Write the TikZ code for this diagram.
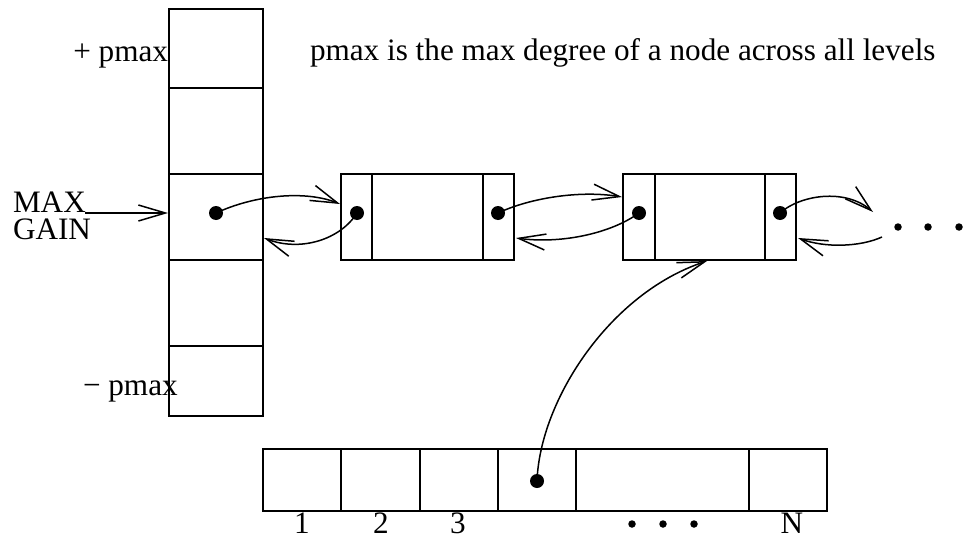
\documentclass[tikz,border=0pt]{standalone}
\usepackage{fontspec}
\setmainfont{Liberation Serif}
\usetikzlibrary{arrows.meta}
\begin{document}
\begin{tikzpicture}[x=1pt,y=-1pt,
  every node/.style={inner sep=0pt,outer sep=0pt},
  lbl/.style={font=\fontsize{31.2}{27.5}\selectfont},
  bigdot/.style={fill=black,circle,minimum size=14pt},
  smalldot/.style={fill=black,circle,minimum size=7.5pt},
  link/.style={line width=1.5pt,-{Straight Barb[length=27pt,width=16pt,line width=1.5pt]}},
  line width=1.5pt]
\useasboundingbox (0,0) rectangle (964,538);
% gain column
\draw (169,9) rectangle (263,416);
\foreach \yy in {88,174,260,346} \draw (169,\yy) -- (263,\yy);
% list node 1
\draw (341,174) rectangle (514,260);
\draw (372,174) -- (372,260) (483,174) -- (483,260);
% list node 2
\draw (623,174) rectangle (796,260);
\draw (655,174) -- (655,260) (765,174) -- (765,260);
% bottom array
\draw (263,449) rectangle (827,511);
\foreach \xx in {341,420,498,576,749} \draw (\xx,449) -- (\xx,511);
% dots
\node[bigdot] (d0) at (216,213) {};
\node[bigdot] (d1l) at (357,213) {};
\node[bigdot] (d1r) at (498,213) {};
\node[bigdot] (d2l) at (639,213) {};
\node[bigdot] (d2r) at (780,213) {};
\node[bigdot] (db) at (537,481) {};
\node[smalldot] (e1) at (898,227) {};
\node[smalldot] (e2) at (928,227) {};
\node[smalldot] (e3) at (959,227) {};
\node[smalldot] (f1) at (632,524) {};
\node[smalldot] (f2) at (663,524) {};
\node[smalldot] (f3) at (694,524) {};
% connector end points
\coordinate (mgs) at (85,213);
\coordinate (mge) at (168,213);
\coordinate (n1in) at (340,204);
\coordinate (colback) at (264,238);
\coordinate (n2in) at (622,197);
\coordinate (n1back) at (516,238);
\coordinate (nxt) at (873,212);
\coordinate (nxtback) at (882,237);
\coordinate (n2back) at (798,238);
\coordinate (n2bot) at (707,261);
% connectors
\draw[link] (mgs) -- (mge);
\draw[link] (d0.center) .. controls (255,195) and (305,190) .. (n1in);
\draw[link] (d1l.center) .. controls (340,240) and (300,252) .. (colback);
\draw[link] (d1r.center) .. controls (530,198) and (580,190) .. (n2in);
\draw[link] (d2l.center) .. controls (610,234) and (560,244) .. (n1back);
\draw[link] (d2r.center) .. controls (800,195) and (845,188) .. (nxt);
\draw[link] (nxtback) .. controls (860,247) and (825,248) .. (n2back);
\draw[link] (db.center) .. controls (540,400) and (610,293) .. (n2bot);
% labels
\node[lbl,anchor=base east] (tp) at (168,61) {+ pmax};
\node[lbl,anchor=base west] (tm) at (83,395) {− pmax};
\node[lbl,anchor=north west,align=left] (tmg) at (13,191.5) {MAX\\GAIN};
\node[lbl,anchor=base west] (title) at (310,60) {pmax is the max degree of a node across all levels};
\node[lbl,anchor=base] (i1) at (302,533) {1};
\node[lbl,anchor=base] (i2) at (381,533) {2};
\node[lbl,anchor=base] (i3) at (458,533) {3};
\node[lbl,anchor=base] (iN) at (792,533) {N};
\end{tikzpicture}
\end{document}
